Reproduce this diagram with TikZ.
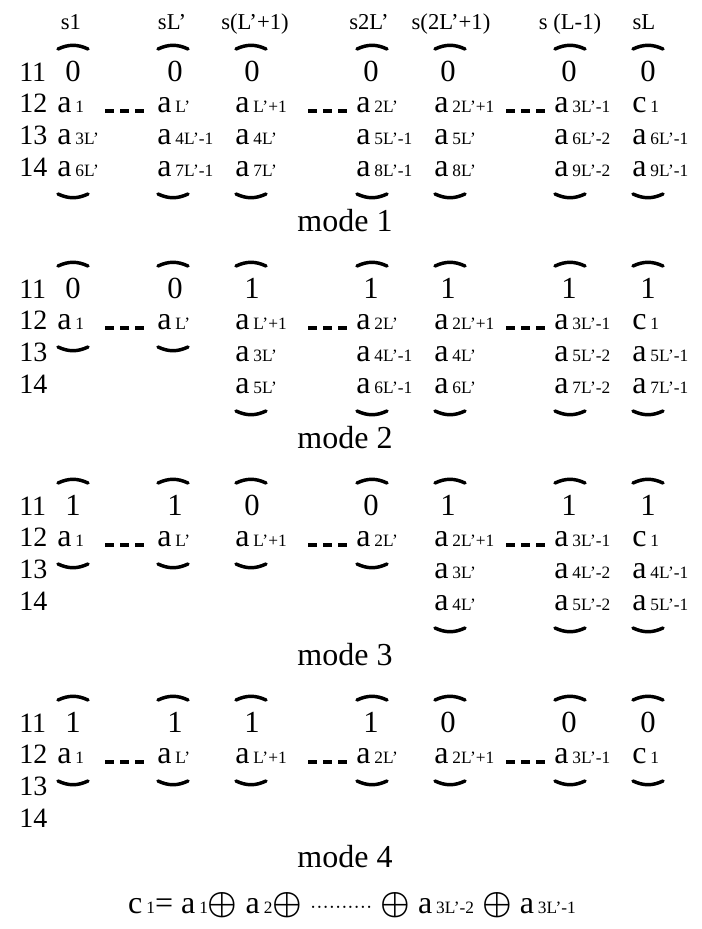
\documentclass[tikz,border=0pt]{standalone}
\usepackage{fontspec}
\setmainfont{Liberation Serif}
\usepackage{tikz}
\tikzset{
  lvl/.style={anchor=base west,inner sep=0pt,font=\fontsize{21}{24}\selectfont},
  bit/.style={anchor=base,inner sep=0pt,font=\fontsize{23}{24}\selectfont},
  itm/.style={anchor=base west,inner sep=0pt,font=\fontsize{24}{26}\selectfont},
  hdr/.style={anchor=base,inner sep=0pt,font=\fontsize{17}{18}\selectfont},
  modelab/.style={anchor=base,inner sep=0pt,font=\fontsize{24}{26}\selectfont},
  brc/.style={line width=2.6pt,line cap=round},
  dashes/.style={line width=2.3pt,dash pattern=on 6.75pt off 4.5pt},
}
\newcommand{\ai}[2][a]{#1\hspace{3pt}{\fontsize{13}{14}\selectfont #2}}
\newcommand{\xo}{{\boldmath$\oplus$}}

\begin{document}
\begin{tikzpicture}[x=0.75pt,y=-0.75pt]
\useasboundingbox (0,0) rectangle (702,929);
% column heads
\node[hdr] (s1) at (71,29) {s1};
\node[hdr] (s2) at (172,29) {sL'};
\node[hdr] (s3) at (255,29) {s(L'+1)};
\node[hdr] (s4) at (369,29) {s2L'};
\node[hdr] (s5) at (451,29) {s(2L'+1)};
\node[hdr] (s6) at (570,29) {s (L-1)};
\node[hdr] (s7) at (644,29) {sL};
% row labels of the four modes
\foreach \m/\dy in {1/0,2/217,3/434,4/651}
  \foreach \r/\b in {1/81,2/112,3/144,4/176}
    \node[lvl] (m\m l\r) at (19,\b+\dy) {1\r};

% mode 1
\node[bit] (m1c1) at (73,81) {0}; \node[bit] (m1c2) at (175,81) {0}; \node[bit] (m1c3) at (252,81) {0};
\node[bit] (m1c4) at (371,81) {0}; \node[bit] (m1c5) at (448,81) {0}; \node[bit] (m1c6) at (569,81) {0};
\node[bit] (m1c7) at (648,81) {0};
\node[itm] (m1c1r2) at (57,112) {\ai{1}}; \node[itm] (m1c1r3) at (57,144) {\ai{3L'}}; \node[itm] (m1c1r4) at (57,176) {\ai{6L'}};
\node[itm] (m1c2r2) at (157,112) {\ai{L'}}; \node[itm] (m1c2r3) at (157,144) {\ai{4L'-1}}; \node[itm] (m1c2r4) at (157,176) {\ai{7L'-1}};
\node[itm] (m1c3r2) at (235,112) {\ai{L'+1}}; \node[itm] (m1c3r3) at (235,144) {\ai{4L'}}; \node[itm] (m1c3r4) at (235,176) {\ai{7L'}};
\node[itm] (m1c4r2) at (356,112) {\ai{2L'}}; \node[itm] (m1c4r3) at (356,144) {\ai{5L'-1}}; \node[itm] (m1c4r4) at (356,176) {\ai{8L'-1}};
\node[itm] (m1c5r2) at (434,112) {\ai{2L'+1}}; \node[itm] (m1c5r3) at (434,144) {\ai{5L'}}; \node[itm] (m1c5r4) at (434,176) {\ai{8L'}};
\node[itm] (m1c6r2) at (554,112) {\ai{3L'-1}}; \node[itm] (m1c6r3) at (554,144) {\ai{6L'-2}}; \node[itm] (m1c6r4) at (554,176) {\ai{9L'-2}};
\node[itm] (m1c7r2) at (632,112) {\ai[c]{1}}; \node[itm] (m1c7r3) at (632,144) {\ai{6L'-1}}; \node[itm] (m1c7r4) at (632,176) {\ai{9L'-1}};
\foreach \x in {73,173,251,372,450,570,648}{
  \draw[brc] (\x-15,49) to[bend left=25] (\x+15,49);
  \draw[brc] (\x-15,194) to[bend right=25] (\x+15,194);
}
\draw[dashes] (105,111) -- (144,111); \draw[dashes] (308,111) -- (347,111); \draw[dashes] (506,111) -- (545,111);
\node[modelab] (mode1) at (345,231) {mode 1};

% mode 2
\begin{scope}[shift={(0,217)}]
\node[bit] (m2c1) at (73,81) {0}; \node[bit] (m2c2) at (175,81) {0}; \node[bit] (m2c3) at (252,81) {1};
\node[bit] (m2c4) at (371,81) {1}; \node[bit] (m2c5) at (448,81) {1}; \node[bit] (m2c6) at (569,81) {1};
\node[bit] (m2c7) at (648,81) {1};
\node[itm] (m2c1r2) at (57,112) {\ai{1}};
\node[itm] (m2c2r2) at (157,112) {\ai{L'}};
\node[itm] (m2c3r2) at (235,112) {\ai{L'+1}}; \node[itm] (m2c3r3) at (235,144) {\ai{3L'}}; \node[itm] (m2c3r4) at (235,176) {\ai{5L'}};
\node[itm] (m2c4r2) at (356,112) {\ai{2L'}}; \node[itm] (m2c4r3) at (356,144) {\ai{4L'-1}}; \node[itm] (m2c4r4) at (356,176) {\ai{6L'-1}};
\node[itm] (m2c5r2) at (434,112) {\ai{2L'+1}}; \node[itm] (m2c5r3) at (434,144) {\ai{4L'}}; \node[itm] (m2c5r4) at (434,176) {\ai{6L'}};
\node[itm] (m2c6r2) at (554,112) {\ai{3L'-1}}; \node[itm] (m2c6r3) at (554,144) {\ai{5L'-2}}; \node[itm] (m2c6r4) at (554,176) {\ai{7L'-2}};
\node[itm] (m2c7r2) at (632,112) {\ai[c]{1}}; \node[itm] (m2c7r3) at (632,144) {\ai{5L'-1}}; \node[itm] (m2c7r4) at (632,176) {\ai{7L'-1}};
\foreach \x in {73,173,251,372,450,570,648}
  \draw[brc] (\x-15,49) to[bend left=25] (\x+15,49);
\foreach \x in {73,173}
  \draw[brc] (\x-15,130) to[bend right=25] (\x+15,130);
\foreach \x in {251,372,450,570,648}
  \draw[brc] (\x-15,194) to[bend right=25] (\x+15,194);
\draw[dashes] (105,111) -- (144,111); \draw[dashes] (308,111) -- (347,111); \draw[dashes] (506,111) -- (545,111);
\node[modelab] (mode2) at (345,231) {mode 2};
\end{scope}

% mode 3
\begin{scope}[shift={(0,434)}]
\node[bit] (m3c1) at (73,81) {1}; \node[bit] (m3c2) at (175,81) {1}; \node[bit] (m3c3) at (252,81) {0};
\node[bit] (m3c4) at (371,81) {0}; \node[bit] (m3c5) at (448,81) {1}; \node[bit] (m3c6) at (569,81) {1};
\node[bit] (m3c7) at (648,81) {1};
\node[itm] (m3c1r2) at (57,112) {\ai{1}};
\node[itm] (m3c2r2) at (157,112) {\ai{L'}};
\node[itm] (m3c3r2) at (235,112) {\ai{L'+1}};
\node[itm] (m3c4r2) at (356,112) {\ai{2L'}};
\node[itm] (m3c5r2) at (434,112) {\ai{2L'+1}}; \node[itm] (m3c5r3) at (434,144) {\ai{3L'}}; \node[itm] (m3c5r4) at (434,176) {\ai{4L'}};
\node[itm] (m3c6r2) at (554,112) {\ai{3L'-1}}; \node[itm] (m3c6r3) at (554,144) {\ai{4L'-2}}; \node[itm] (m3c6r4) at (554,176) {\ai{5L'-2}};
\node[itm] (m3c7r2) at (632,112) {\ai[c]{1}}; \node[itm] (m3c7r3) at (632,144) {\ai{4L'-1}}; \node[itm] (m3c7r4) at (632,176) {\ai{5L'-1}};
\foreach \x in {73,173,251,372,450,570,648}
  \draw[brc] (\x-15,49) to[bend left=25] (\x+15,49);
\foreach \x in {73,173,251,372}
  \draw[brc] (\x-15,130) to[bend right=25] (\x+15,130);
\foreach \x in {450,570,648}
  \draw[brc] (\x-15,194) to[bend right=25] (\x+15,194);
\draw[dashes] (105,111) -- (144,111); \draw[dashes] (308,111) -- (347,111); \draw[dashes] (506,111) -- (545,111);
\node[modelab] (mode3) at (345,231) {mode 3};
\end{scope}

% mode 4
\begin{scope}[shift={(0,651)}]
\node[bit] (m4c1) at (73,81) {1}; \node[bit] (m4c2) at (175,81) {1}; \node[bit] (m4c3) at (252,81) {1};
\node[bit] (m4c4) at (371,81) {1}; \node[bit] (m4c5) at (448,81) {0}; \node[bit] (m4c6) at (569,81) {0};
\node[bit] (m4c7) at (648,81) {0};
\node[itm] (m4c1r2) at (57,112) {\ai{1}}; \node[itm] (m4c2r2) at (157,112) {\ai{L'}};
\node[itm] (m4c3r2) at (235,112) {\ai{L'+1}}; \node[itm] (m4c4r2) at (356,112) {\ai{2L'}};
\node[itm] (m4c5r2) at (434,112) {\ai{2L'+1}}; \node[itm] (m4c6r2) at (554,112) {\ai{3L'-1}};
\node[itm] (m4c7r2) at (632,112) {\ai[c]{1}};
\foreach \x in {73,173,251,372,450,570,648}{
  \draw[brc] (\x-15,49) to[bend left=25] (\x+15,49);
  \draw[brc] (\x-15,130) to[bend right=25] (\x+15,130);
}
\draw[dashes] (105,111) -- (144,111); \draw[dashes] (308,111) -- (347,111); \draw[dashes] (506,111) -- (545,111);
\node[modelab] (mode4) at (345,216) {mode 4};
\end{scope}

% parity
\node[itm,anchor=base] (eq) at (352,913) {\ai[c]{1}= \ai{1}\xo\ \ai{2}\xo\ {\fontsize{14}{16}\selectfont ··········}\ \xo\ \ai{3L'-2} \xo\ \ai{3L'-1}};
\end{tikzpicture}
\end{document}
